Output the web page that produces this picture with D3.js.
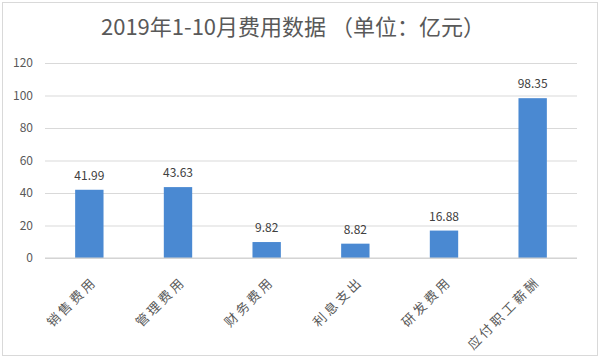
<!DOCTYPE html>
<html><head><meta charset="utf-8">
<script src="https://cdn.jsdelivr.net/npm/d3@7"></script>
<style>body{margin:0;background:#fff;}svg{display:block;}</style>
</head><body>
<script>
const categories = ["销售费用","管理费用","财务费用","利息支出","研发费用","应付职工薪酬"];
const values = [41.99, 43.63, 9.82, 8.82, 16.88, 98.35];
const yTicks = [0,20,40,60,80,100,120];
const title = "2019年1-10月费用数据 （单位：亿元）";

const W=600,H=358;
const margin={left:45,right:23,top:63,bottom:100};
const svg=d3.select("body").append("svg").attr("width",W).attr("height",H);
svg.append("rect").attr("x",2.5).attr("y",2.5).attr("width",W-5).attr("height",H-5)
  .attr("fill","#fff").attr("stroke","#d9d9d9").attr("stroke-width",1);

const x=d3.scaleBand().domain(categories).range([margin.left,W-margin.right]).paddingInner(0.68).paddingOuter(0.34);
const y=d3.scaleLinear().domain([0,120]).range([H-margin.bottom,margin.top]);
const font="'Microsoft YaHei','Noto Sans CJK SC',sans-serif";

svg.append("text").attr("x",293).attr("y",35).attr("text-anchor","middle")
  .attr("font-family",font).attr("font-size",22).attr("fill","#595959").text(title);

const ya=d3.axisLeft(y).tickValues(yTicks).tickSize(-(W-margin.left-margin.right)).tickPadding(12);
const gy=svg.append("g").attr("transform",`translate(${margin.left},0)`).call(ya);
gy.select(".domain").remove();
gy.selectAll(".tick line").attr("stroke","#d9d9d9");
gy.selectAll(".tick text").attr("font-family",font).attr("font-size",12).attr("fill","#595959");

svg.selectAll("rect.bar").data(values).join("rect").attr("class","bar")
  .attr("x",(d,i)=>x(categories[i])).attr("width",x.bandwidth())
  .attr("y",d=>y(d)).attr("height",d=>y(0)-y(d)).attr("fill","#4a89d2");

svg.selectAll("text.lbl").data(values).join("text").attr("class","lbl")
  .attr("x",(d,i)=>x(categories[i])+x.bandwidth()/2).attr("y",d=>y(d)-10)
  .attr("text-anchor","middle").attr("font-family",font).attr("font-size",12).attr("fill","#404040")
  .text(d=>d);

svg.append("line").attr("x1",margin.left).attr("x2",W-margin.right)
  .attr("y1",y(0)).attr("y2",y(0)).attr("stroke","#d0d0d0");

svg.selectAll("text.cat").data(categories).join("text").attr("class","cat")
  .attr("transform",d=>`translate(${x(d)+x.bandwidth()/2},${y(0)+16}) rotate(-45)`)
  .attr("text-anchor","end").attr("dominant-baseline","hanging")
  .attr("letter-spacing",3)
  .attr("font-family",font).attr("font-size",13).attr("fill","#595959").text(d=>d);
</script>
</body></html>
